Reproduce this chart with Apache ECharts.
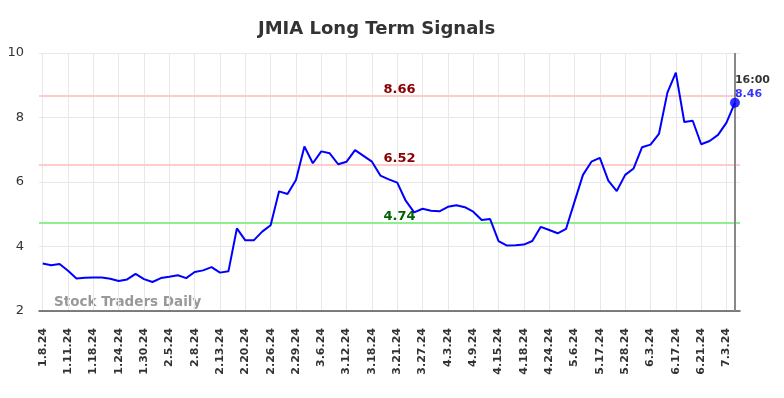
<!DOCTYPE html>
<html>
<head>
<meta charset="utf-8">
<script src="https://cdn.jsdelivr.net/npm/echarts@6/dist/echarts.min.js"></script>
<style>
html,body{margin:0;padding:0;background:#fff;}
#c{width:784px;height:398px;}
</style>
</head>
<body>
<div id="c"></div>
<script>
const title = 'JMIA Long Term Signals';
const tickLabels = ['1.8.24','1.11.24','1.18.24','1.24.24','1.30.24','2.5.24','2.8.24','2.13.24','2.20.24','2.26.24','2.29.24','3.6.24','3.12.24','3.18.24','3.21.24','3.27.24','4.3.24','4.9.24','4.15.24','4.18.24','4.24.24','5.6.24','5.17.24','5.28.24','6.3.24','6.17.24','6.21.24','7.3.24'];
const prices = [3.47,3.42,3.46,3.25,3.01,3.03,3.04,3.04,3.00,2.93,2.98,3.15,2.99,2.90,3.02,3.06,3.11,3.02,3.21,3.26,3.36,3.19,3.23,4.56,4.19,4.19,4.46,4.66,5.71,5.63,6.06,7.10,6.58,6.95,6.89,6.55,6.63,6.99,6.81,6.63,6.20,6.08,5.98,5.42,5.06,5.17,5.11,5.09,5.23,5.28,5.22,5.08,4.82,4.85,4.17,4.03,4.04,4.06,4.17,4.61,4.51,4.41,4.55,5.39,6.22,6.63,6.75,6.04,5.72,6.22,6.42,7.08,7.16,7.49,8.77,9.39,7.86,7.90,7.17,7.27,7.46,7.84,8.46];
const upperSignal = 8.66;
const midSignal = 6.52;
const lowerSignal = 4.74;
const lastTime = '16:00';
const lastPrice = 8.46;
const yTicks = [2,4,6,8,10];
const watermark = 'Stock Traders Daily';

const pointsPerTick = 3;
const tickPositions = tickLabels.map((_, k) => k * pointsPerTick);
const lastIdx = prices.length - 1;
const seriesData = prices.map((v, i) => [i, v]);

const chart = echarts.init(document.getElementById('c'));
chart.setOption({
  animation: false,
  backgroundColor: '#ffffff',
  title: {
    text: title,
    left: 253,
    top: 15,
    textStyle: {fontFamily: 'DejaVu Sans', fontWeight: 'bold', fontSize: 18, color: '#333333'}
  },
  grid: {left: 39, right: 44, top: 53, bottom: 87, containLabel: false},
  xAxis: {
    type: 'value',
    min: -0.44,
    max: lastIdx + 0.6,
    axisLine: {show: true, lineStyle: {color: '#555555', width: 1.5}},
    axisTick: {show: false, customValues: tickPositions},
    splitLine: {show: true, lineStyle: {color: '#e8e8e8', width: 1}},
    axisLabel: {
      customValues: tickPositions,
      rotate: 90,
      margin: 17,
      fontFamily: 'DejaVu Sans',
      fontWeight: 'bold',
      fontSize: 11,
      color: '#333333',
      formatter: v => tickLabels[Math.round(v / pointsPerTick)] || ''
    }
  },
  yAxis: {
    type: 'value',
    min: yTicks[0],
    max: yTicks[yTicks.length - 1],
    interval: 2,
    axisLine: {show: false},
    axisTick: {show: false},
    splitLine: {show: true, lineStyle: {color: '#e8e8e8', width: 1}},
    axisLabel: {fontFamily: 'DejaVu Sans', fontSize: 13, color: '#333333', margin: 15}
  },
  graphic: [{
    type: 'text',
    left: 54,
    top: 295,
    style: {text: watermark, fontFamily: 'DejaVu Sans', fontWeight: 'bold', fontSize: 13.5, fill: '#999999'}
  }],
  series: [{
    type: 'line',
    data: seriesData,
    showSymbol: false,
    symbol: 'none',
    lineStyle: {color: '#0000ff', width: 2},
    z: 5,
    markLine: {
      silent: true,
      symbol: ['none', 'none'],
      data: [
        {yAxis: upperSignal, lineStyle: {color: '#ffcccc', width: 2, type: 'solid'},
         label: {formatter: upperSignal.toFixed(2), color: '#8b0000'}},
        {yAxis: midSignal, lineStyle: {color: '#ffcccc', width: 2, type: 'solid'},
         label: {formatter: midSignal.toFixed(2), color: '#8b0000'}},
        {yAxis: lowerSignal, lineStyle: {color: '#90ee90', width: 2, type: 'solid'},
         label: {formatter: lowerSignal.toFixed(2), color: '#006400'}},
        {xAxis: lastIdx, lineStyle: {color: '#888888', width: 2, type: 'solid'}, label: {show: false}}
      ],
      label: {
        show: true,
        position: 'insideMiddleTop',
        offset: [10, 1],
        distance: 1,
        fontFamily: 'DejaVu Sans',
        fontWeight: 'bold',
        fontSize: 13
      }
    }
  }, {
    type: 'scatter',
    data: [[lastIdx, prices[lastIdx]]],
    symbol: 'circle',
    symbolSize: 10,
    itemStyle: {color: '#0000ff'},
    z: 6,
    label: {
      show: true,
      position: [5, 3],
      align: 'left',
      verticalAlign: 'bottom',
      formatter: '{a|' + lastTime + '}\n{b|' + lastPrice.toFixed(2) + '}',
      rich: {
        a: {fontFamily: 'DejaVu Sans', fontWeight: 'bold', fontSize: 11, color: '#000000', lineHeight: 14},
        b: {fontFamily: 'DejaVu Sans', fontWeight: 'bold', fontSize: 11, color: '#0000ff', lineHeight: 14}
      }
    }
  }]
});
</script>
</body>
</html>
